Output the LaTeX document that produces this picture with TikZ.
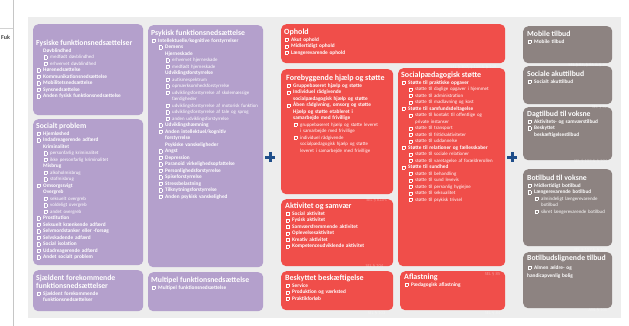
\documentclass[tikz,border=0pt]{standalone}
\usepackage{fontspec}
\setmainfont{Carlito}
\definecolor{pur}{HTML}{B4A0CC}
\definecolor{rd}{HTML}{F04E4A}
\definecolor{gr}{HTML}{8D8381}
\definecolor{bgc}{HTML}{EDEDED}
\definecolor{pl}{HTML}{1F4E8A}
\newlength\stp \setlength\stp{7pt}
\newlength\ind
\newcommand\cbx{{\setlength\fboxrule{0.35pt}\setlength\fboxsep{0pt}\fbox{\rule{0pt}{2.8pt}\hspace{2.8pt}}}}
\newcommand\ttl[2][7.7]{{\fontsize{#1}{8}\selectfont #2\par}}
\newcommand\It[2]{\par\ind=#1\stp\hangindent=\dimexpr\ind+\stp\relax\hangafter=1\noindent\hspace*{\ind}\makebox[\stp][l]{\hspace{0.6pt}\cbx}#2}
\newcommand\Rt[2]{\It{#1}{{\mdseries\fontsize{4.9}{6.5}\selectfont #2}}}
\newcommand\Hd[2]{\par\ind=#1\stp\advance\ind\stp\hangindent=\ind\hangafter=1\noindent\hspace*{\ind}#2}
\newcommand\bx[6]{\node[bxst,fill=#6,minimum width={#4pt-#2pt},minimum height={#5pt-#3pt}] (#1) at (#2,#3) {};}
\begin{document}
\begin{tikzpicture}[x=1pt,y=-1pt,
  bxst/.style={anchor=north west,inner sep=0pt,rounded corners=5pt,draw=none},
  txt/.style={anchor=north west,inner sep=0pt,align=left,text=white,font=\fontsize{5.3}{6.5}\selectfont\bfseries},
  ft/.style={anchor=south east,inner sep=0pt,text=white,text opacity=0.4,font=\fontsize{4.6}{5}\selectfont},
  plus/.style={minimum size=10pt,inner sep=0pt,path picture={\draw[line width=3pt,pl] (path picture bounding box.north) -- (path picture bounding box.south) (path picture bounding box.west) -- (path picture bounding box.east);}}]
\useasboundingbox (0,0) rectangle (629,326);
\fill[white] (0,0) rectangle (629,326);
% screen artefact on the left
\draw[gray!45,line width=0.6pt] (13,0) -- (13,326);
\draw[gray!35,line width=0.5pt] (0,28) -- (13,28);
\node[anchor=west,inner sep=0pt,font=\fontsize{6}{6}\selectfont\bfseries,text=black!75] (frag) at (1,37) {Fuk};
% panel
\node[anchor=north west,inner sep=0pt,fill=bgc,minimum width=593pt,minimum height=301pt] (panel) at (28,17) {};
% purple boxes
\bx{p1}{33}{24}{143}{115}{pur}
\bx{p2}{33}{119}{143}{265}{pur}
\bx{p3}{33}{270}{143}{311}{pur}
\bx{p4}{148}{25}{263}{267}{pur}
\bx{p5}{148}{272}{263}{311}{pur}
% red boxes
\bx{r1}{281}{24}{505}{63}{rd}
\bx{r2}{281}{69}{393}{194}{rd}
\bx{r3}{398}{68}{505}{266}{rd}
\bx{r4}{281}{199}{393}{266}{rd}
\bx{r5}{281}{271}{393}{310}{rd}
\bx{r6}{400}{271}{505}{310}{rd}
% grey boxes
\bx{g1}{523}{26}{612}{63}{gr}
\bx{g2}{523}{66}{612}{104}{gr}
\bx{g3}{523}{107}{612}{160}{gr}
\bx{g4}{523}{169}{612}{246}{gr}
\bx{g5}{523}{252}{612}{308}{gr}
% plus signs
\node[plus] (plus1) at (270,157) {};
\node[plus] (plus2) at (512,157) {};
% texts purple
\node[txt,text width=106pt] (p1t) at (36,40) {\ttl{Fysiske funktionsnedsættelser}
\Hd{0}{Døvblindhed}
\Rt{1}{medfødt døvblindhed}
\Rt{1}{erhvervet døvblindhed}
\It{0}{Hørenedsættelse}
\It{0}{Kommunikationsnedsættelse}
\It{0}{Mobilitetsnedsættelse}
\It{0}{Synsnedsættelse}
\It{0}{Anden fysisk funktionsnedsættelse}\par};
\node[txt,text width=106pt] (p2t) at (36,123) {\ttl{Socialt problem}
\It{0}{Hjemløshed}
\It{0}{Indadreagerende adfærd}
\Hd{0}{Kriminalitet}
\Rt{1}{personfarlig kriminalitet}
\Rt{1}{ikke personfarlig kriminalitet}
\Hd{0}{Misbrug}
\Rt{1}{alkoholmisbrug}
\Rt{1}{stofmisbrug}
\It{0}{Omsorgssvigt}
\Hd{0}{Overgreb}
\Rt{1}{seksuelt overgreb}
\Rt{1}{voldeligt overgreb}
\Rt{1}{andet overgreb}
\It{0}{Prostitution}
\It{0}{Seksuelt krænkende adfærd}
\It{0}{Selvmordstanker eller -forsøg}
\It{0}{Selvskadende adfærd}
\It{0}{Social isolation}
\It{0}{Udadreagerende adfærd}
\It{0}{Andet socialt problem}\par};
\node[txt,text width=106pt] (p3t) at (36,275) {\ttl{Sjældent forekommende\\funktionsnedsættelser}
\It{0}{Sjældent forekommende\newline funktionsnedsættelser}\par};
\node[txt,text width=113pt] (p4t) at (151,30) {\ttl{Psykisk funktionsnedsættelse}
\It{0}{Intellektuelle/kognitive forstyrrelser}
\It{1}{Demens}
\Hd{1}{Hjerneskade}
\Rt{2}{erhvervet hjerneskade}
\Rt{2}{medfødt hjerneskade}
\Hd{1}{Udviklingsforstyrrelse}
\Rt{2}{autismespektrum}
\Rt{2}{opmærksomhedsforstyrrelse}
\Rt{2}{udviklingsforstyrrelse af skolemæssige\newline færdigheder}
\Rt{2}{udviklingsforstyrrelse af motorisk funktion}
\Rt{2}{udviklingsforstyrrelse af tale og sprog}
\Rt{2}{anden udviklingsforstyrrelse}
\It{1}{Udviklingshæmning}
\It{1}{Anden intellektuel/kognitiv\newline forstyrrelse}
\Hd{1}{Psykiske vanskeligheder}
\It{1}{Angst}
\It{1}{Depression}
\It{1}{Paranoid virkelighedsopfattelse}
\It{1}{Personlighedsforstyrrelse}
\It{1}{Spiseforstyrrelse}
\It{1}{Stressbelastning}
\It{1}{Tilknytningsforstyrrelse}
\It{1}{Anden psykisk vanskelighed}\par};
\node[txt,text width=112pt] (p5t) at (151,277) {\ttl{Multipel funktionsnedsættelse}
\It{0}{Multipel funktionsnedsættelse}\par};
% texts red
\node[txt,text width=200pt] (r1t) at (284,29) {\ttl[8]{Ophold}
\It{0}{Akut ophold}
\It{0}{Midlertidigt ophold}
\It{0}{Længerevarende ophold}\par};
\node[txt,text width=105pt] (r2t) at (286,75) {\ttl[8]{Forebyggende hjælp og støtte}
\It{0}{Gruppebaseret hjælp og støtte}
\It{0}{Individuel rådgivende\newline socialpædagogisk hjælp og støtte}
\It{0}{Åben rådgivning, omsorg og støtte}
\Hd{0}{Hjælp og støtte etableret i\newline samarbejde med frivillige}
\Rt{1}{gruppebaseret hjælp og støtte leveret\newline i samarbejde med frivillige}
\Rt{1}{individuel rådgivende\newline socialpædagogisk hjælp og støtte\newline leveret i samarbejde med frivillige}\par};
\node[txt,text width=104pt] (r3t) at (401,72) {\ttl[8]{Socialpædagogisk støtte}
\It{0}{Støtte til praktiske opgaver}
\Rt{1}{støtte til daglige opgaver i hjemmet}
\Rt{1}{støtte til administration}
\Rt{1}{støtte til madlavning og kost}
\It{0}{Støtte til samfundsdeltagelse}
\Rt{1}{støtte til kontakt til offentlige og\newline private instanser}
\Rt{1}{støtte til transport}
\Rt{1}{støtte til fritidsaktiviteter}
\Rt{1}{støtte til uddannelse}
\It{0}{Støtte til relationer og fællesskaber}
\Rt{1}{støtte til sociale relationer}
\Rt{1}{støtte til varetagelse af forældrerollen}
\It{0}{Støtte til sundhed}
\Rt{1}{støtte til behandling}
\Rt{1}{støtte til sund levevis}
\Rt{1}{støtte til personlig hygiejne}
\Rt{1}{støtte til seksualitet}
\Rt{1}{støtte til psykisk trivsel}\par};
\node[txt,text width=105pt] (r4t) at (285,203) {\ttl[8]{Aktivitet og samvær}
\It{0}{Social aktivitet}
\It{0}{Fysisk aktivitet}
\It{0}{Samværsfremmende aktivitet}
\It{0}{Oplevelsesaktivitet}
\It{0}{Kreativ aktivitet}
\It{0}{Kompetenceudviklende aktivitet}\par};
\node[txt,text width=105pt] (r5t) at (285,275) {\ttl[8]{Beskyttet beskæftigelse}
\It{0}{Service}
\It{0}{Produktion og værksted}
\It{0}{Praktikforløb}\par};
\node[txt,text width=100pt] (r6t) at (404,274) {\ttl[8]{Aflastning}
\It{0}{Pædagogisk aflastning}\par};
% texts grey
\node[txt,text width=84pt] (g1t) at (527,31) {\ttl{Mobile tilbud}
\It{0}{Mobile tilbud}\par};
\node[txt,text width=84pt] (g2t) at (527,71) {\ttl{Sociale akuttilbud}
\It{0}{Socialt akuttilbud}\par};
\node[txt,text width=84pt] (g3t) at (527,111) {\ttl{Dagtilbud til voksne}
\It{0}{Aktivitets- og samværstilbud}
\It{0}{Beskyttet\newline beskæftigelsestilbud}\par};
\node[txt,text width=84pt] (g4t) at (527,175) {\ttl{Botilbud til voksne}
\It{0}{Midlertidigt botilbud}
\It{0}{Længerevarende botilbud}
\Rt{1}{almindeligt længerevarende\newline botilbud}
\Rt{1}{sikret længerevarende botilbud}\par};
\node[txt,text width=84pt] (g5t) at (527,255) {\ttl{Botilbudslignende tilbud}
\vspace{2pt}
\It{0}{Almen ældre- og\\[2pt]handicapvenlig bolig}\par};
% footers
\node[ft] (r1f) at ([shift={(-9pt,-6pt)}]r1.south east) {SEL § 107, § 108 \& § 109};
\node[ft] (r2f) at ([shift={(-6pt,-8pt)}]r2.south east) {SEL § 82a-c};
\node[ft] (r3f) at ([shift={(-5pt,-10pt)}]r3.south east) {SEL § 85};
\node[ft] (r4f) at ([shift={(-10pt,-2pt)}]r4.south east) {SEL § 104};
\node[ft] (r5f) at ([shift={(-8pt,-5pt)}]r5.south east) {SEL § 103};
\node[ft] (r6f) at ([shift={(-5pt,-5pt)}]r6.south east) {SEL § 84};
\node[ft] (g1f) at ([shift={(-5pt,-4pt)}]g1.south east) {SEL § 82, § 85 \& § 99};
\node[ft] (g2f) at ([shift={(-5pt,-5pt)}]g2.south east) {SEL § 82};
\node[ft] (g3f) at ([shift={(-5pt,-3pt)}]g3.south east) {SEL § 103 \& § 104};
\node[ft] (g4f) at ([shift={(-5pt,-6pt)}]g4.south east) {SEL § 107 \& § 108};
\node[ft] (g5f) at ([shift={(-5pt,-4pt)}]g5.south east) {ABL § 105};
\end{tikzpicture}
\end{document}
